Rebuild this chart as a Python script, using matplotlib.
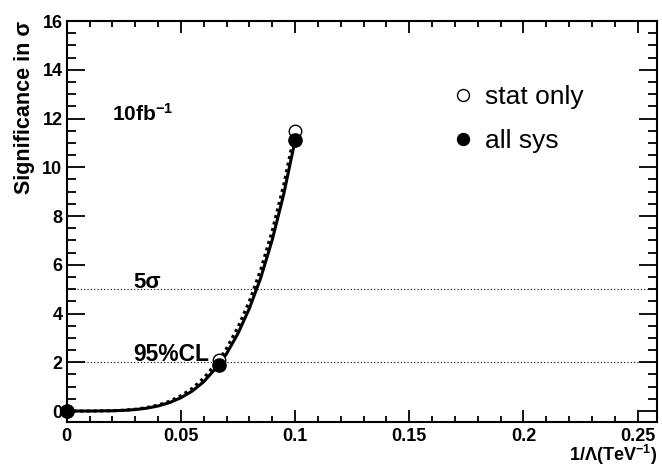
import numpy as np
import matplotlib
matplotlib.use("Agg")
import matplotlib.pyplot as plt
from matplotlib.ticker import MultipleLocator
from matplotlib.lines import Line2D

plt.rcParams['font.family'] = ['Liberation Sans', 'DejaVu Sans']
plt.rcParams['mathtext.fontset'] = 'custom'
plt.rcParams['mathtext.rm'] = 'Liberation Sans:bold'
plt.rcParams['mathtext.bf'] = 'Liberation Sans:bold'
plt.rcParams['mathtext.it'] = 'Liberation Sans:bold'

# fit curves (1/Lambda in TeV^-1, significance in sigma)
x_curve = [0, 0.01, 0.02, 0.025, 0.03, 0.035, 0.04, 0.045, 0.05, 0.055, 0.06,
           0.0667, 0.07, 0.075, 0.08, 0.085, 0.09, 0.095, 0.1]
sys_curve = [0, 0.0, 0.01, 0.027, 0.059, 0.115, 0.206, 0.344, 0.544, 0.82, 1.20,
             1.9, 2.35, 3.18, 4.21, 5.47, 7.02, 8.88, 11.1]
stat_curve = [0, 0.0, 0.013, 0.034, 0.073, 0.14, 0.245, 0.40, 0.63, 0.93, 1.35,
              2.1, 2.57, 3.44, 4.51, 5.81, 7.39, 9.27, 11.5]

# measured points
x_pts = [0, 0.0667, 0.1]
stat_pts = [0, 2.1, 11.5]
sys_pts = [0, 1.9, 11.1]

fig = plt.figure(figsize=(6.62, 4.68), dpi=100)
ax = fig.add_axes([0.1007, 0.0983, 0.8918, 0.8567])

ax.axhline(5, color="black", lw=0.8, ls=(0, (1, 2)))
ax.axhline(2, color="black", lw=0.8, ls=(0, (1, 2)))

ax.plot(x_curve, stat_curve, color="black", lw=2.2, ls=(0, (1, 1.2)))
ax.plot(x_curve, sys_curve, color="black", lw=2.2)

ax.plot(x_pts, stat_pts, "o", ms=9, mfc="white", mec="black", mew=1, clip_on=False, zorder=4)
ax.plot(x_pts, sys_pts, "o", ms=9.5, color="black", clip_on=False, zorder=5)

ax.text(0.0199, 12.2, "10fb$^{-1}$", fontsize=15, fontweight="bold", va="center")
ax.text(0.029, 5.05, "5σ", fontsize=16, fontweight="bold", va="baseline")
ax.text(0.029, 2.05, "95%CL", fontsize=16.5, fontweight="bold", va="baseline")

handles = [Line2D([], [], ls="none", marker="o", ms=8.6, mfc="white", mec="black", mew=1),
           Line2D([], [], ls="none", marker="o", ms=8.6, color="black")]
ax.legend(handles, ["stat only", "all sys"], loc="upper left", bbox_to_anchor=(0.655, 0.84),
          frameon=False, fontsize=19, handlelength=0.7, handletextpad=0.5,
          borderpad=0, borderaxespad=0, labelspacing=0.75)

ax.set_xlim(0, 0.2585)
ax.set_ylim(-0.45, 16)
ax.xaxis.set_major_locator(MultipleLocator(0.05))
ax.xaxis.set_minor_locator(MultipleLocator(0.01))
ax.yaxis.set_major_locator(MultipleLocator(2))
ax.yaxis.set_minor_locator(MultipleLocator(0.5))
ax.set_xticks([0, 0.05, 0.1, 0.15, 0.2, 0.25])
ax.set_xticklabels(["0", "0.05", "0.1", "0.15", "0.2", "0.25"])

ax.tick_params(axis="both", which="both", direction="in", top=True, right=True,
               labelsize=13, width=1.3)
ax.tick_params(axis="x", which="major", length=8.6, pad=4)
ax.tick_params(axis="x", which="minor", length=4.3)
ax.tick_params(axis="y", which="major", length=13, pad=3)
ax.tick_params(axis="y", which="minor", length=6.5)
for lab in ax.get_xticklabels() + ax.get_yticklabels():
    lab.set_fontweight("bold")
for sp in ax.spines.values():
    sp.set_linewidth(1.5)

ax.set_xlabel("1/Λ(TeV$^{-1}$)", fontsize=13, fontweight="bold", loc="right", labelpad=-1)
ax.set_ylabel("Significance in σ", fontsize=15.5, fontweight="bold", loc="top", labelpad=5)

fig.savefig("out.png", dpi=100)
